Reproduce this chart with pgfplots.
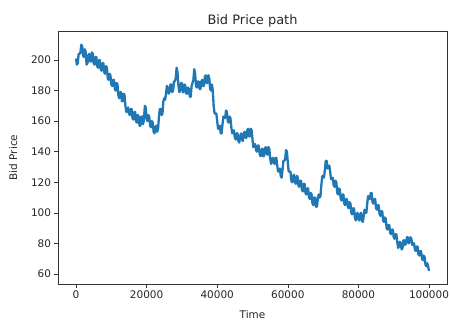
\documentclass[border=0pt]{standalone}
\usepackage{pgfplots}
\pgfplotsset{compat=1.18}
\usepackage{fontspec}
\setmainfont{DejaVu Sans}
\definecolor{mplblue}{HTML}{1F77B4}
\definecolor{spine}{HTML}{333333}
\begin{document}
\begin{tikzpicture}
\useasboundingbox (-58bp,-36bp) rectangle (393bp,284bp);
\begin{axis}[
  at={(0,0)}, anchor=south west,
  scale only axis, width=389bp, height=253bp,
  xmin=-5100, xmax=105100, ymin=53.4, ymax=219,
  xtick={0,20000,40000,60000,80000,100000},
  ytick={60,80,100,120,140,160,180,200},
  scaled x ticks=false,
  xticklabel style={/pgf/number format/fixed,/pgf/number format/set thousands separator={}},
  /pgf/number format/assume math mode=true,
  tick label style={font=\fontsize{10.5}{12}\selectfont, color=black!85},
  label style={font=\fontsize{10.5}{12}\selectfont, color=black!85},
  title style={font=\fontsize{13}{15}\selectfont, color=black!85, yshift=-6bp},
  title={Bid Price path},
  xlabel={Time}, ylabel={Bid Price},
  xlabel style={yshift=-5bp},
  ylabel style={yshift=7bp},
  tick align=outside, xtick pos=left, ytick pos=left,
  major tick length=3.5bp,
  every tick/.style={spine, line width=0.6pt},
  axis line style={spine, line width=0.6pt},
  clip=true,
]
\addplot[mplblue, line width=2.3bp, line join=round] table[x expr=\thisrowno{0}*1000, y index=1] {
0 201
0.25 197
0.5 198
0.75 204
1 204
1.25 205
1.5 210
1.75 209
2 203
2.25 202
2.5 207
2.75 205
3 197
3.25 198
3.5 203
3.75 204
4 199
4.25 199
4.5 205
4.75 204
5 198
5.25 197
5.5 202
5.75 202
6 196
6.25 195
6.5 200
6.75 200
7 194
7.25 193
7.5 198
7.75 198
8 192
8.25 191
8.5 196
8.75 195
9 188
9.25 187
9.5 191
9.75 190
10 184
10.25 183
10.5 187
10.75 187
11 181
11.25 180
11.5 185
11.75 184
12 177
12.25 175
12.5 179
12.75 179
13 173
13.25 173
13.5 178
13.75 177
14 170
14.25 166
14.5 167
14.75 169
15 165
15.25 164
15.5 168
15.75 168
16 162
16.25 161
16.5 166
16.75 166
17 160
17.25 159
17.5 164
17.75 163
18 157
18.25 157
18.5 163
18.75 163
19 158
19.25 161
19.5 170
19.75 169
20 162
20.25 160
20.5 164
20.75 163
21 157
21.25 156
21.5 160
21.75 159
22 153
22.25 152
22.5 156
22.75 157
23 153
23.25 155
23.5 163
23.75 168
24 168
24.25 164
24.5 165
24.75 173
25 175
25.25 174
25.5 178
25.75 183
26 182
26.25 178
26.5 179
26.75 184
27 184
27.25 179
27.5 180
27.75 186
28 186
28.25 188
28.5 195
28.75 192
29 184
29.25 179
29.5 180
29.75 185
30 185
30.25 179
30.5 179
30.75 184
31 183
31.25 178
31.5 178
31.75 182
32 181
32.25 176
32.5 176
32.75 183
33 185
33.25 187
33.5 194
33.75 191
34 183
34.25 182
34.5 186
34.75 186
35 181
35.25 181
35.5 186
35.75 187
36 183
36.25 183
36.5 189
36.75 190
37 185
37.25 185
37.5 190
37.75 188
38 181
38.25 180
38.5 184
38.75 180
39 170
39.25 165
39.5 165
39.75 165
40 160
40.25 155
40.5 156
40.75 157
41 152
41.25 152
41.5 158
41.75 163
42 162
42.25 162
42.5 167
42.75 166
43 160
43.25 159
43.5 163
43.75 162
44 156
44.25 152
44.5 153
44.75 154
45 149
45.25 148
45.5 152
45.75 152
46 147
46.25 146
46.5 150
46.75 152
47 148
47.25 147
47.5 152
47.75 153
48 149
48.25 149
48.5 154
48.75 155
49 150
49.25 150
49.5 155
49.75 154
50 148
50.25 143
50.5 144
50.75 145
51 141
51.25 140
51.5 144
51.75 144
52 139
52.25 137
52.5 141
52.75 142
53 137
53.25 137
53.5 142
53.75 143
54 139
54.25 138
54.5 143
54.75 142
55 136
55.25 132
55.5 134
55.75 136
56 133
56.25 132
56.5 136
56.75 136
57 131
57.25 127
57.5 128
57.75 129
58 124
58.25 123
58.5 128
58.75 134
59 134
59.25 135
59.5 141
59.75 140
60 133
60.25 127
60.5 127
60.75 127
61 121
61.25 120
61.5 124
61.75 125
62 120
62.25 119
62.5 124
62.75 124
63 118
63.25 117
63.5 121
63.75 121
64 115
64.25 114
64.5 119
64.75 119
65 113
65.25 112
65.5 116
65.75 116
66 110
66.25 109
66.5 113
66.75 112
67 106
67.25 105
67.5 110
67.75 110
68 104
68.25 104
68.5 109
68.75 112
69 110
69.25 111
69.5 118
69.75 124
70 124
70.25 123
70.5 128
70.75 134
71 134
71.25 129
71.5 130
71.75 131
72 127
72.25 122
72.5 122
72.75 123
73 118
73.25 117
73.5 121
73.75 120
74 113
74.25 112
74.5 116
74.75 115
75 109
75.25 108
75.5 112
75.75 112
76 106
76.25 105
76.5 109
76.75 109
77 104
77.25 103
77.5 107
77.75 106
78 100
78.25 99
78.5 103
78.75 103
79 97
79.25 95
79.5 99
79.75 100
80 96
80.25 95
80.5 99
80.75 100
81 95
81.25 94
81.5 98
81.75 102
82 100
82.25 100
82.5 106
82.75 111
83 110
83.25 109
83.5 113
83.75 113
84 107
84.25 106
84.5 109
84.75 109
85 103
85.25 102
85.5 105
85.75 105
86 99
86.25 98
86.5 101
86.75 101
87 95
87.25 94
87.5 97
87.75 96
88 90
88.25 89
88.5 92
88.75 92
89 87
89.25 86
89.5 89
89.75 89
90 84
90.25 83
90.5 86
90.75 86
91 81
91.25 77
91.5 78
91.75 81
92 80
92.25 76
92.5 77
92.75 82
93 82
93.25 79
93.5 80
93.75 84
94 84
94.25 80
94.5 81
94.75 84
95 83
95.25 79
95.5 80
95.75 80
96 76
96.25 75
96.5 78
96.75 78
97 73
97.25 72
97.5 75
97.75 75
98 70
98.25 69
98.5 72
98.75 71
99 66
99.25 65
99.5 67
99.75 65
100 62
};
\end{axis}
\end{tikzpicture}
\end{document}
